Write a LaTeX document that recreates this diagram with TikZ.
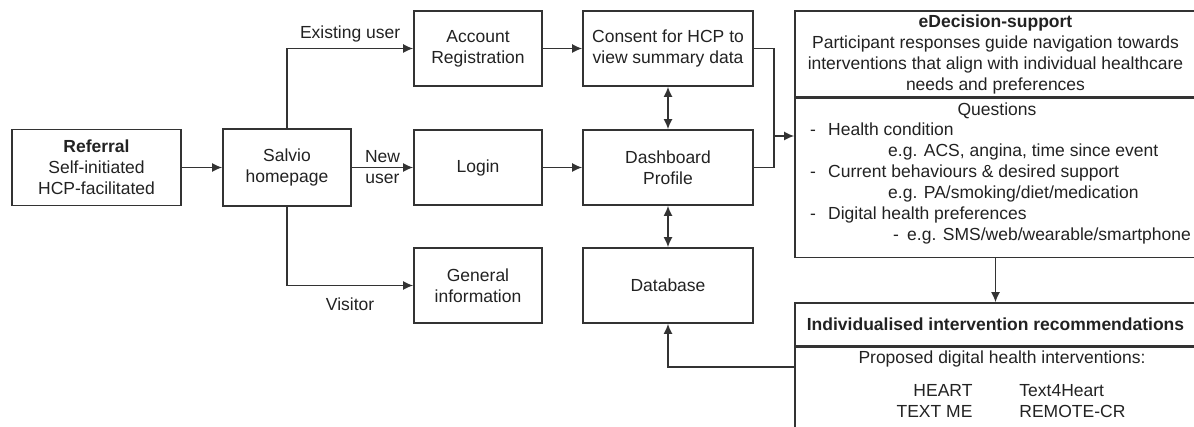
\documentclass[tikz,border=0pt]{standalone}
\usepackage{fontspec}
\setmainfont{Liberation Sans}
\usetikzlibrary{arrows.meta, positioning, calc}
\definecolor{boxline}{HTML}{333333}
\definecolor{inktext}{HTML}{222222}

\begin{document}
\begin{tikzpicture}[x=1pt, y=-1pt,
    font=\fontsize{17.5}{21}\selectfont, text=inktext,
    >={Latex[length=10pt, width=9pt]},
    flowbox/.style={draw=boxline, line width=1.6pt, align=center, inner sep=0pt},
    link/.style={draw=boxline, line width=1.6pt, ->},
    plain/.style={draw=boxline, line width=1.6pt}]
      \useasboundingbox (0,0) rectangle (1194,427);
      \clip (0,0) rectangle (1194,427);

      % left and middle columns
      \node[flowbox, minimum width=169, minimum height=76] (referral) at (96.5,167.5)
            {\textbf{Referral}\\Self-initiated\\HCP-facilitated};
      \node[flowbox, minimum width=128, minimum height=77] (salvio) at (287,167.5) {Salvio\\homepage};

      \node[flowbox, minimum width=128, minimum height=75] (account) at (478,48.5) {Account\\Registration};
      \node[flowbox, minimum width=128, minimum height=75] (login) at (478,167.5) {Login};
      \node[flowbox, minimum width=128, minimum height=75] (general) at (478,285.5) {General\\information};

      \node[flowbox, minimum width=170, minimum height=75] (consent) at (668,48.5) {Consent for HCP to\\view summary data};
      \node[flowbox, minimum width=170, minimum height=75] (dashboard) at (668,167.5) {Dashboard\\Profile};
      \node[flowbox, minimum width=170, minimum height=75] (database) at (668,285.5) {Database};

      % right column
      \node[flowbox, minimum width=401, minimum height=86] (edsHead) at (995.5,54)
            {\textbf{eDecision-support}\\Participant responses guide navigation towards\\interventions that align with individual healthcare\\needs and preferences};
      \node[flowbox, minimum width=401, minimum height=159, anchor=north] (edsBody) at (edsHead.south) {};
      \node[anchor=north, inner sep=0pt] (questions) at (997,103) {Questions};
      \node[anchor=north west, align=left, inner sep=0pt] (questionList) at (810,123)
            {\makebox[18pt][l]{-}Health condition\\
             \hspace*{78pt}e.g. ACS, angina, time since event\\
             \makebox[18pt][l]{-}Current behaviours \& desired support\\
             \hspace*{78pt}e.g. PA/smoking/diet/medication\\
             \makebox[18pt][l]{-}Digital health preferences\\
             \hspace*{83pt}\makebox[14pt][l]{-}e.g. SMS/web/wearable/smartphone};

      \node[flowbox, minimum width=401, minimum height=43] (recHead) at (995.5,324.5)
            {\textbf{Individualised intervention recommendations}};
      \node[flowbox, minimum width=401, minimum height=100, anchor=north] (recBody) at (recHead.south) {};
      \node (proposed) at (1002,359) {Proposed digital health interventions:};
      \node (recList) at (1011,403)
            {\begin{tabular}{@{}r@{\hspace{47pt}}l@{}}HEART & Text4Heart\\TEXT ME & REMOTE-CR\end{tabular}};

      % connectors
      \draw[link] (referral) -- (salvio);
      \draw[link] (salvio.north) |- node[above=2pt, pos=0.75] {Existing user} (account);
      \draw[link] (salvio) -- node[align=center] {New\\user} (login);
      \draw[link] (salvio.south) |- node[below=8pt, pos=0.75] {Visitor} (general);

      \draw[link] (account) -- (consent);
      \draw[link] (login) -- (dashboard);
      \draw[link, <->] (consent) -- (dashboard);
      \draw[link, <->] (dashboard) -- (database);

      \coordinate (join) at (774,136);
      \draw[plain] (consent.east) -| (join) |- (dashboard.east);
      \draw[link] (join) -- (join -| edsBody.west);
      \draw[link] (edsBody) -- (recHead);

      \coordinate (feedback) at (795,367);
      \draw[link] (feedback) -| (database);
\end{tikzpicture}
\end{document}
